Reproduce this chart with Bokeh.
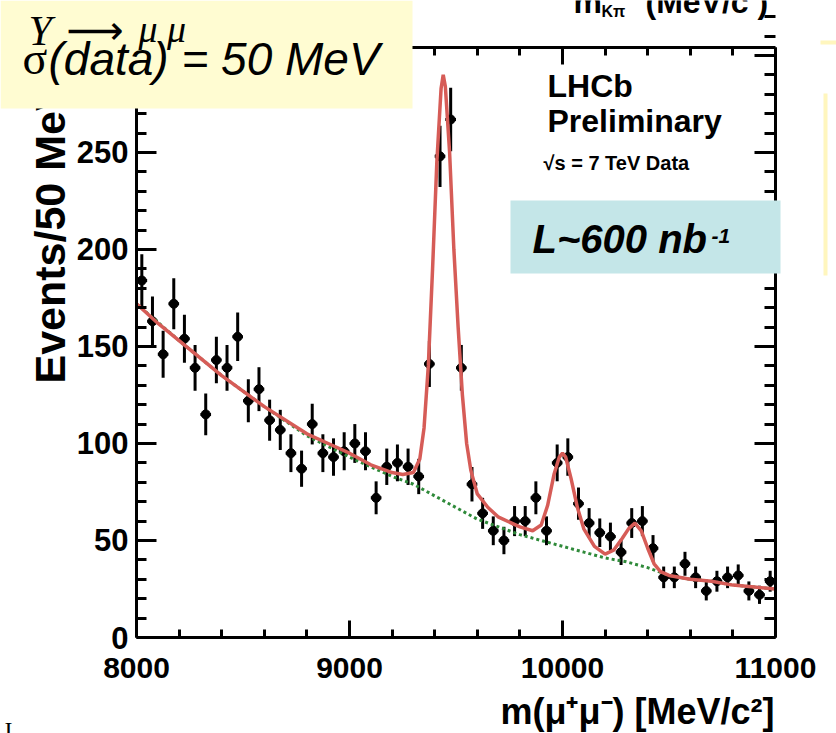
import math
from bokeh.plotting import figure
from bokeh.models import Range1d, LinearAxis, FixedTicker, Label, BoxAnnotation
from bokeh.embed import file_html
from bokeh.resources import INLINE

# ---------------- data ----------------
bin_centers = [8025, 8075, 8125, 8175, 8225, 8275, 8325, 8375, 8425, 8475,
               8525, 8575, 8625, 8675, 8725, 8775, 8825, 8875, 8925, 8975,
               9025, 9075, 9125, 9175, 9225, 9275, 9325, 9375, 9425, 9475,
               9525, 9575, 9625, 9675, 9725, 9775, 9825, 9875, 9925, 9975,
               10025, 10075, 10125, 10175, 10225, 10275, 10325, 10375, 10425, 10475,
               10525, 10575, 10625, 10675, 10725, 10775, 10825, 10875, 10925, 10975]
events = [184, 163, 146, 172, 154, 139, 115, 143, 139, 155,
          122, 128, 112, 107, 95, 87, 110, 95, 93, 96,
          100, 96, 72, 88, 90, 88, 83, 141, 248, 267,
          139, 79, 64, 55, 50, 60, 60, 72, 55, 90,
          93, 69, 59, 54, 52, 44, 59, 60, 46, 31,
          31, 38, 31, 24, 29, 31, 32, 24, 22, 29]

fit_mass = [8000, 8100, 8200, 8300, 8400, 8500, 8600, 8700, 8800, 8900,
            9000, 9100, 9200, 9250, 9300, 9330, 9350, 9370, 9390, 9410,
            9430, 9440, 9450, 9470, 9490, 9510, 9530, 9550, 9570, 9600,
            9650, 9700, 9800, 9860, 9900, 9930, 9960, 9985, 10000, 10015,
            10040, 10070, 10100, 10150, 10200, 10240, 10280, 10310, 10340, 10370,
            10400, 10430, 10460, 10500, 10600, 10700, 10800, 10900, 11000]
fit_events = [172, 162, 153, 144, 135, 127, 119, 112, 105, 100,
              95, 89, 85, 84, 85, 92, 108, 140, 190, 245,
              283, 290, 284, 250, 200, 160, 125, 100, 86, 74,
              67, 62, 57, 55, 58, 68, 84, 93, 95, 93,
              82, 67, 56, 47, 43, 45, 51, 56, 59, 55,
              46, 38, 34, 32, 30, 29, 27, 26, 25]

bkg_mass = [8000, 8200, 8400, 8600, 8800, 9000, 9200, 9300, 9400, 9500,
            9600, 9700, 9800, 9900, 10000, 10100, 10200, 10300, 10400, 10500,
            10600, 10700, 10800, 10900, 11000]
bkg_events = [172, 153, 135, 119, 104, 93, 83, 79, 73, 67,
              61, 57, 53, 50, 47, 44, 41, 39, 36, 32,
              30, 29, 27, 26, 25]

x_ticks = [8000, 9000, 10000, 11000]
y_ticks = [0, 50, 100, 150, 200, 250, 300]
bin_half_width = 25

# ---------------- geometry ----------------
W, H = 836, 733
FL, FR, FT, FB = 136, 775, 47, 637      # pixel box of the histogram frame
X0, X1 = 8000, 11000
Y0, Y1 = 0, 304.1


def dx(px):
    return X0 + (px - FL) * (X1 - X0) / (FR - FL)


def dy(py):
    return Y0 + (FB - py) * (Y1 - Y0) / (FB - FT)


# the drawing frame covers the whole canvas; axes are placed at fixed locations
p = figure(width=W, height=H,
           x_range=Range1d(dx(0), dx(W)), y_range=Range1d(dy(H), dy(0)),
           output_backend="svg", toolbar_location=None,
           min_border_left=0, min_border_right=0,
           min_border_top=0, min_border_bottom=0)
p.xgrid.visible = False
p.ygrid.visible = False
p.background_fill_color = "white"
p.border_fill_color = "white"
p.outline_line_color = None

x_minor = [t + k * 200 for t in x_ticks[:-1] for k in range(1, 5)]
y_minor = [t + k * 10 for t in y_ticks for k in range(1, 5)]


def style_axis(ax, ticks, minor, tin, min_in, loc, bounds,
               labels=True, size="30px", standoff=10):
    ax.fixed_location = loc
    ax.bounds = bounds
    ax.ticker = FixedTicker(ticks=ticks, minor_ticks=minor)
    ax.axis_line_width = 3
    ax.axis_line_color = "black"
    ax.major_tick_in = tin
    ax.major_tick_out = 0
    ax.minor_tick_in = min_in
    ax.minor_tick_out = 0
    ax.major_tick_line_width = 3
    ax.minor_tick_line_width = 3
    ax.major_tick_line_color = "black"
    ax.minor_tick_line_color = "black"
    if labels:
        ax.major_label_text_font = "Liberation Sans"
        ax.major_label_text_font_style = "bold"
        ax.major_label_text_font_size = size
        ax.major_label_text_color = "black"
        ax.major_label_standoff = standoff
    else:
        ax.major_label_text_font_size = "0px"
        ax.major_label_text_color = None


style_axis(p.xaxis[0], x_ticks, x_minor, 17, 8, Y0, (X0, X1), True, "30px", 20)
style_axis(p.yaxis[0], y_ticks, y_minor, 20, 10, X0, (Y0, Y1), True, "31px", 8)
right_ax = LinearAxis()
top_ax = LinearAxis()
style_axis(right_ax, y_ticks, y_minor, 21, 11, X1, (Y0, Y1), False)
style_axis(top_ax, x_ticks, x_minor, 17, 8, Y1, (X0, X1), False)
p.add_layout(right_ax, "right")
p.add_layout(top_ax, "above")

# ---------------- data points ----------------
errs = [math.sqrt(v) for v in events]
p.segment(x0=bin_centers, x1=bin_centers,
          y0=[v - e for v, e in zip(events, errs)],
          y1=[v + e for v, e in zip(events, errs)],
          line_color="black", line_width=3)
p.segment(x0=[c - bin_half_width for c in bin_centers],
          x1=[c + bin_half_width for c in bin_centers],
          y0=events, y1=events, line_color="black", line_width=3)
p.scatter(bin_centers, events, size=9, color="black", marker="circle")

# ---------------- fit curves ----------------
p.line(bkg_mass, bkg_events, line_color="#2f8a3a", line_width=3, line_dash="3 3")
p.line(fit_mass, fit_events, line_color="#d65c57", line_width=3.5)


# ---------------- overlays ----------------
def box(x0, y0, x1, y1, color):
    b = BoxAnnotation(left=dx(x0), right=dx(x1), top=dy(y0), bottom=dy(y1),
                      fill_color=color, fill_alpha=1.0, line_color=None,
                      level="overlay")
    p.add_layout(b)


def lab(text, px, base, size, style="bold", font="Liberation Sans",
        align="left", angle=0.0, color="black"):
    # labels are anchored at the middle of the capital letters
    shift = 0.36 * size
    if angle == 0.0:
        x, y = dx(px), dy(base - shift)
    else:
        x, y = dx(base), dy(px)
    l = Label(x=x, y=y, text=text, text_font=font,
              text_font_size=f"{size}px", text_font_style=style,
              text_align=align, text_baseline="alphabetic", angle=angle,
              text_color=color, level="overlay")
    p.add_layout(l)


# y-axis title (its upper end is hidden behind the yellow box)
lab("Events/50 MeV", 383, 49, 43, angle=math.pi / 2)

box(0, 0, 412, 108, "#FFFCD2")
box(510, 200, 780, 273, "#C4E6E8")
box(820, 40, 836, 44, "#FFF6BE")
box(823, 93, 827, 275, "#FFF6BE")

lab("Y", 28, 46, 42, style="italic", font="Liberation Serif")
lab("\u27f6", 66, 44, 40, style="normal", font="DejaVu Sans")
lab("\u03bc \u03bc", 138, 42, 38, style="italic", font="Liberation Serif")
lab("\u03c3", 22, 75, 46, style="normal", font="Liberation Serif")
lab("(data) = 50 MeV", 48, 75, 46, style="italic")

lab("LHCb", 547, 97, 32)
lab("Preliminary", 547, 132, 32)
lab("\u221as = 7 TeV Data", 543, 170, 20)

lab("L~600 nb", 532, 253, 40, style="bold italic")
lab("-1", 711, 243, 21, style="bold italic")

lab("m(\u03bc\u207a\u03bc\u207b) [MeV/c\u00b2]", 774, 724, 36, align="right")

# text cropped by the top edge (belongs to a neighbouring plot)
lab("m", 573, 13, 32)
lab("K\u03c0", 601, 17, 16)
lab("(MeV/c )", 645, 13, 32)

lab("I", 4, 738, 24, style="normal", font="Liberation Serif")

open("out.html", "w").write(file_html(p, INLINE))
